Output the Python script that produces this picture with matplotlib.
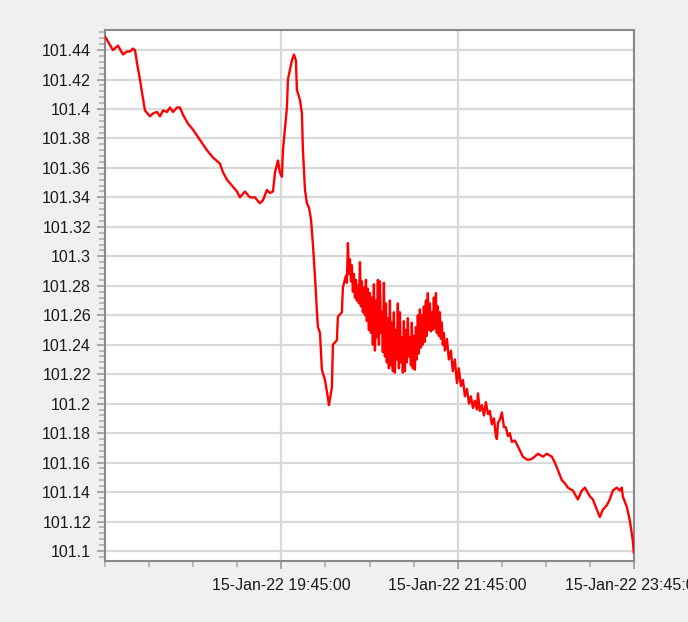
import matplotlib
matplotlib.use("Agg")
import matplotlib.pyplot as plt
import matplotlib.dates as mdates
from matplotlib.ticker import MultipleLocator, FuncFormatter, FixedLocator
import datetime as dt

start_time = "2022-01-15 17:45"

# minutes after start_time
minutes = [
    # 17:45 - 20:27
    0, 0.7, 5.4, 8.8, 12.2, 15.0, 17.0, 19.0, 20.4, 21.8, 23.8, 25.2, 27.2, 30.6, 32.7,
    35.4, 37.4, 39.5, 42.2, 44.2, 46.3, 49.0, 51.0, 53.1, 56.5, 59.9, 64.6, 69.4, 73.5,
    78.2, 80.3, 83.0, 86.4, 89.8, 91.8, 95.2, 98.6, 102.0, 105.4, 107.5, 110.2, 112.2,
    114.3, 115.7, 117.7, 119.0, 120.4, 121.1, 123.8, 124.5, 127.2, 128.6, 129.9, 130.6,
    132.7, 134.0, 134.7, 136.1, 137.4, 138.8, 140.2, 141.5, 142.9, 144.3, 144.9, 146.3,
    147.6, 149.7, 151.7, 152.4, 154.4, 155.1, 157.8, 158.5, 161.2, 161.9,
    # noisy stretch
    164.0, 164.6, 165.3, 166.0, 166.7, 167.4, 168.0, 168.7, 169.4, 170.1, 170.8, 171.4,
    172.1, 172.8, 173.5, 174.2, 174.8, 175.5, 176.2, 176.9, 177.6, 178.2, 178.9, 179.6,
    180.3, 181.0, 181.6, 182.3, 183.0, 183.7, 184.4, 185.0, 185.7, 186.4, 187.1, 187.8,
    188.4, 189.1, 189.8, 190.5, 191.2, 191.8, 192.5, 193.2, 193.9, 194.6, 195.2, 195.9,
    196.6, 197.3, 198.0, 198.6, 199.3, 200.0, 200.7, 201.4, 202.0, 202.7, 203.4, 204.1,
    204.8, 205.4, 206.1, 206.8, 207.5, 208.2, 208.8, 209.5, 210.2, 210.9, 211.6, 212.2,
    212.9, 213.6, 214.3, 215.0, 215.6, 216.3, 217.0, 217.7, 218.4, 219.0, 219.7, 220.4,
    221.1, 221.8, 222.4, 223.1, 223.8, 224.5, 225.2, 225.8, 226.5, 227.2, 227.9, 228.6,
    229.2, 229.9, 230.6,
    # decline
    231.3, 232.7, 234.0, 235.4, 236.7, 238.1, 239.5, 240.8, 242.2, 243.6, 244.9, 246.3,
    247.7, 249.0, 250.4, 251.7, 253.1, 253.8, 255.1, 256.5, 257.9, 259.2, 260.6, 261.9,
    263.3, 264.7, 266.0, 266.7, 267.4, 268.7, 270.1, 271.5, 272.8, 274.2, 275.5, 276.9,
    278.9, 281.0,
    # to 23:45
    284.4, 287.1, 289.1, 291.2, 294.6, 298.0, 300.7, 304.1, 306.1, 308.2, 310.9, 312.9,
    315.0, 318.4, 321.8, 324.5, 326.6, 330.0, 332.0, 334.7, 336.7, 338.8, 341.5, 343.5,
    345.6, 348.3, 350.4, 351.7, 352.4, 355.1, 357.1, 359.2, 359.9,
]

prices = [
    101.449, 101.448, 101.440, 101.443, 101.437, 101.439, 101.439, 101.441, 101.440,
    101.431, 101.420, 101.411, 101.399, 101.395, 101.397, 101.398, 101.395, 101.399,
    101.398, 101.401, 101.398, 101.401, 101.401, 101.396, 101.390, 101.386, 101.379,
    101.372, 101.367, 101.363, 101.357, 101.352, 101.348, 101.344, 101.340, 101.344,
    101.340, 101.340, 101.336, 101.338, 101.345, 101.343, 101.344, 101.357, 101.365,
    101.357, 101.354, 101.372, 101.401, 101.420, 101.433, 101.437, 101.433, 101.413,
    101.406, 101.397, 101.372, 101.345, 101.336, 101.333, 101.325, 101.308, 101.286,
    101.261, 101.252, 101.248, 101.223, 101.216, 101.204, 101.199, 101.211, 101.240,
    101.243, 101.259, 101.262, 101.279,
    # noisy stretch
    101.287, 101.282, 101.309, 101.288, 101.298, 101.283, 101.294, 101.276, 101.288,
    101.272, 101.284, 101.270, 101.280, 101.268, 101.296, 101.266, 101.283, 101.262,
    101.279, 101.260, 101.284, 101.256, 101.278, 101.250, 101.275, 101.248, 101.272,
    101.240, 101.281, 101.236, 101.270, 101.245, 101.284, 101.240, 101.283, 101.248,
    101.262, 101.235, 101.282, 101.232, 101.268, 101.228, 101.258, 101.224, 101.270,
    101.226, 101.255, 101.222, 101.262, 101.221, 101.250, 101.230, 101.268, 101.224,
    101.262, 101.228, 101.245, 101.221, 101.256, 101.222, 101.250, 101.228, 101.258,
    101.232, 101.245, 101.226, 101.255, 101.224, 101.246, 101.223, 101.252, 101.230,
    101.260, 101.234, 101.264, 101.238, 101.260, 101.240, 101.266, 101.242, 101.270,
    101.246, 101.275, 101.250, 101.268, 101.249, 101.262, 101.250, 101.272, 101.251,
    101.275, 101.248, 101.266, 101.246, 101.262, 101.244, 101.255, 101.240, 101.248,
    # decline
    101.236, 101.244, 101.230, 101.236, 101.222, 101.230, 101.214, 101.224, 101.212,
    101.216, 101.205, 101.210, 101.200, 101.205, 101.197, 101.202, 101.196, 101.207,
    101.195, 101.199, 101.192, 101.201, 101.193, 101.195, 101.186, 101.190, 101.178,
    101.176, 101.187, 101.189, 101.194, 101.184, 101.184, 101.178, 101.180, 101.174,
    101.175, 101.171,
    # to 23:45
    101.164, 101.162, 101.162, 101.163, 101.166, 101.164, 101.166, 101.164, 101.160,
    101.155, 101.148, 101.146, 101.143, 101.141, 101.135, 101.141, 101.143, 101.137,
    101.135, 101.128, 101.123, 101.128, 101.131, 101.135, 101.141, 101.143, 101.141,
    101.143, 101.137, 101.130, 101.121, 101.107, 101.099,
]

major_tick_times = ["2022-01-15 19:45", "2022-01-15 21:45", "2022-01-15 23:45"]
x_range = ["2022-01-15 17:45", "2022-01-15 23:45"]
y_range = [101.0932, 101.4536]

n = min(len(minutes), len(prices))
t0 = dt.datetime.strptime(start_time, "%Y-%m-%d %H:%M")
times = [t0 + dt.timedelta(minutes=m) for m in minutes[:n]]
vals = prices[:n]
parse = lambda s: dt.datetime.strptime(s, "%Y-%m-%d %H:%M")

plt.rcParams['font.family'] = ['Liberation Sans', 'DejaVu Sans']

fig = plt.figure(figsize=(6.88, 6.22), dpi=100, facecolor='#f0f0f0')
ax = fig.add_axes([105/688, 1-561/622, 529/688, 531/622])
ax.set_facecolor('white')

ax.plot(times, vals, color='#ff0000', lw=1.7, solid_joinstyle='round', zorder=3)

ax.set_xlim(parse(x_range[0]), parse(x_range[1]))
ax.set_ylim(*y_range)

ax.xaxis.set_major_locator(FixedLocator([mdates.date2num(parse(s)) for s in major_tick_times]))
ax.xaxis.set_minor_locator(mdates.MinuteLocator(byminute=[15, 45]))
ax.xaxis.set_major_formatter(mdates.DateFormatter('15-Jan-22 %H:%M:00'))

ax.yaxis.set_major_locator(MultipleLocator(0.02))
ax.yaxis.set_minor_locator(MultipleLocator(0.004))
ax.yaxis.set_major_formatter(FuncFormatter(lambda v, p: f"{v:.2f}".rstrip('0').rstrip('.')))

ax.grid(True, which='major', color='#d9d9d9', lw=1.6, zorder=0)
ax.set_axisbelow(True)

for s in ax.spines.values():
    s.set_color('#8a8a8a')
    s.set_linewidth(1.5)

ax.tick_params(axis='both', which='major', length=6, width=1.2, color='#9a9a9a',
               labelsize=11.5, labelcolor='#1a1a1a', pad=4)
ax.tick_params(axis='both', which='minor', length=4, width=1.2, color='#b0b0b0')
ax.tick_params(axis='x', which='major', pad=6)

for lab in ax.get_xticklabels():
    lab.set_ha('center')

fig.savefig('out.png', dpi=100, facecolor=fig.get_facecolor())
